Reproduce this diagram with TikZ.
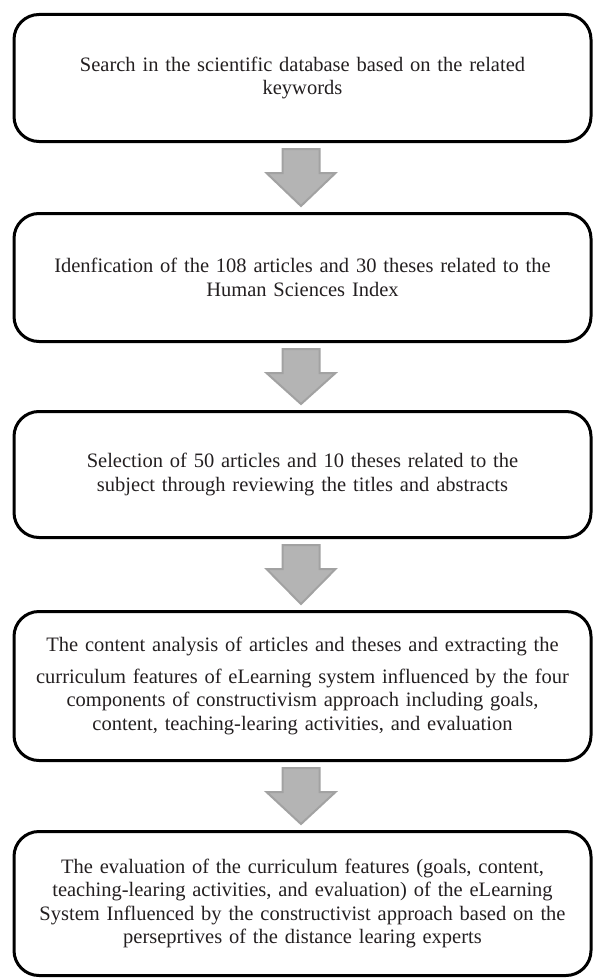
\documentclass[tikz,border=0pt]{standalone}
\usepackage{fontspec}
\setmainfont{Liberation Serif}
\usetikzlibrary{calc}
\definecolor{txtc}{HTML}{231F20}
\definecolor{arrfill}{HTML}{B4B4B4}
\definecolor{arrline}{HTML}{A2A2A2}
\tikzset{
  flowbox/.style={draw=black, line width=3pt, rounded corners=25pt,
    minimum width=577pt, text width=540pt, align=center, inner sep=0pt,
    text=txtc, font=\fontsize{20.5pt}{23.5pt}\selectfont},
  garrow/.style={fill=arrfill, draw=arrline, line width=2pt, line join=miter}
}
\begin{document}
\begin{tikzpicture}[x=1pt,y=-1pt]
\useasboundingbox (0,0) rectangle (594,979);
\node[flowbox, minimum height=127pt] (b1) at (302.5,78)
  {Search in the scientific database based on the related\\keywords};
\node[flowbox, minimum height=128pt] (b2) at (302.5,277.5)
  {Idenfication of the 108 articles and 30 theses related to the\\Human Sciences Index};
\node[flowbox, minimum height=126pt] (b3) at (302.5,474.5)
  {Selection of 50 articles and 10 theses related to the\\subject through reviewing the titles and abstracts};
\node[flowbox, minimum height=149pt] (b4) at (302.5,686)
  {The content analysis of articles and theses and extracting the\\[8pt]curriculum features of eLearning system influenced by the four\\components of constructivism approach including goals,\\content, teaching-learing activities, and evaluation};
\node[flowbox, minimum height=144pt] (b5) at (302.5,903.5)
  {The evaluation of the curriculum features (goals, content,\\teaching-learing activities, and evaluation) of the eLearning\\System Influenced by the constructivist approach based on the\\perseprtives of the distance learing experts};
\foreach \a/\b in {b1/b2,b2/b3,b3/b4,b4/b5}
  \draw[garrow] let \p1=(\a.south), \p2=(\b.north) in
    (\x1-20pt,\y1-6pt) -- (\x1+17pt,\y1-6pt) -- (\x1+17pt,\y1-30pt)
    -- (\x1+33pt,\y1-30pt) -- (\x1-1.5pt,\y2+6pt) -- (\x1-36pt,\y1-30pt)
    -- (\x1-20pt,\y1-30pt) -- cycle;
\end{tikzpicture}
\end{document}
